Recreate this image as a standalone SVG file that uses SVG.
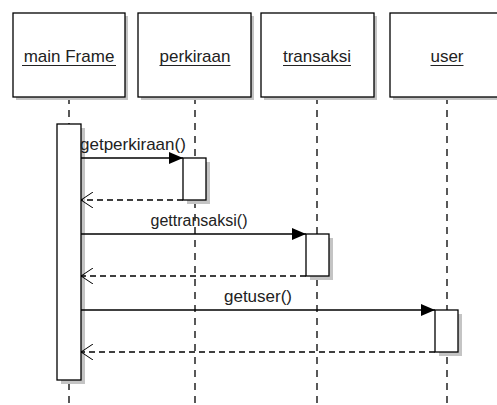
<svg xmlns="http://www.w3.org/2000/svg" width="497" height="405" viewBox="0 0 497 405">
<defs>
<style>
.box{fill:#fff;stroke:#000;stroke-width:1.3}
.shadow{fill:#c4c4c4}
.life{stroke:#000;stroke-width:1.3;stroke-dasharray:7,6;fill:none}
.call{stroke:#000;stroke-width:1.3;fill:none}
.ret{stroke:#000;stroke-width:1.3;stroke-dasharray:6,4;fill:none}
.t{font-family:"Liberation Sans",Arial,sans-serif;font-size:17px;fill:#222}
.s{font-size:16px}
.u{stroke:#222;stroke-width:1}
</style>
<marker id="fill" viewBox="0 0 14 12" refX="14" refY="6" markerWidth="14" markerHeight="12" markerUnits="userSpaceOnUse" orient="auto"><path d="M0,0 L14,6 L0,12 Z" fill="#000"/></marker>
<marker id="open" viewBox="0 0 12 16" refX="12" refY="8" markerWidth="12" markerHeight="16" markerUnits="userSpaceOnUse" orient="auto"><path d="M0,0 L12,8 L0,16" fill="none" stroke="#000" stroke-width="1"/></marker>
</defs>
<rect width="497" height="405" fill="#fff"/>
<g id="lifelines">
<line class="life" x1="69" y1="97" x2="69" y2="405"/>
<line class="life" x1="195" y1="97" x2="195" y2="405"/>
<line class="life" x1="317" y1="97" x2="317" y2="405"/>
<line class="life" x1="447" y1="97" x2="447" y2="405"/>
</g>
<g id="mainFrame">
<rect class="shadow" x="16" y="16" width="112" height="84"/>
<rect class="box" x="13" y="13" width="112" height="84"/>
<text class="t" x="69" y="62" text-anchor="middle">main Frame</text>
<line class="u" x1="22" y1="65.5" x2="116" y2="65.5"/>
</g>
<g id="perkiraan">
<rect class="shadow" x="141" y="16" width="113" height="84"/>
<rect class="box" x="138" y="13" width="113" height="84"/>
<text class="t" x="195" y="62" text-anchor="middle">perkiraan</text>
<line class="u" x1="159.5" y1="65.5" x2="230.5" y2="65.5"/>
</g>
<g id="transaksi">
<rect class="shadow" x="264" y="16" width="113" height="84"/>
<rect class="box" x="261" y="13" width="113" height="84"/>
<text class="t" x="317" y="62" text-anchor="middle">transaksi</text>
<line class="u" x1="283" y1="65.5" x2="351" y2="65.5"/>
</g>
<g id="user">
<rect class="shadow" x="393" y="16" width="112" height="84"/>
<rect class="box" x="390" y="13" width="112" height="84"/>
<text class="t" x="447" y="62" text-anchor="middle">user</text>
<line class="u" x1="430.5" y1="65.5" x2="463.5" y2="65.5"/>
</g>
<g id="activations">
<rect class="shadow" x="61" y="128" width="24" height="256"/>
<rect class="box" x="57" y="124" width="24" height="256"/>
<rect class="shadow" x="187" y="162" width="23" height="42"/>
<rect class="box" x="183" y="158" width="23" height="42"/>
<rect class="shadow" x="310" y="238" width="23" height="42"/>
<rect class="box" x="306" y="234" width="23" height="42"/>
<rect class="shadow" x="439" y="314" width="23" height="42"/>
<rect class="box" x="435" y="310" width="23" height="42"/>
</g>
<g id="connectors">
<line class="call" x1="81" y1="158" x2="183" y2="158" marker-end="url(#fill)"/>
<line class="ret" x1="183" y1="200" x2="81" y2="200" marker-end="url(#open)"/>
<line class="call" x1="81" y1="234" x2="306" y2="234" marker-end="url(#fill)"/>
<line class="ret" x1="306" y1="276" x2="81" y2="276" marker-end="url(#open)"/>
<line class="call" x1="81" y1="310" x2="435" y2="310" marker-end="url(#fill)"/>
<line class="ret" x1="435" y1="352" x2="81" y2="352" marker-end="url(#open)"/>
</g>
<g id="labels">
<text class="t" x="80" y="150">getperkiraan()</text>
<text class="t s" x="199" y="226" text-anchor="middle">gettransaksi()</text>
<text class="t" x="258" y="302" text-anchor="middle">getuser()</text>
</g>
</svg>
